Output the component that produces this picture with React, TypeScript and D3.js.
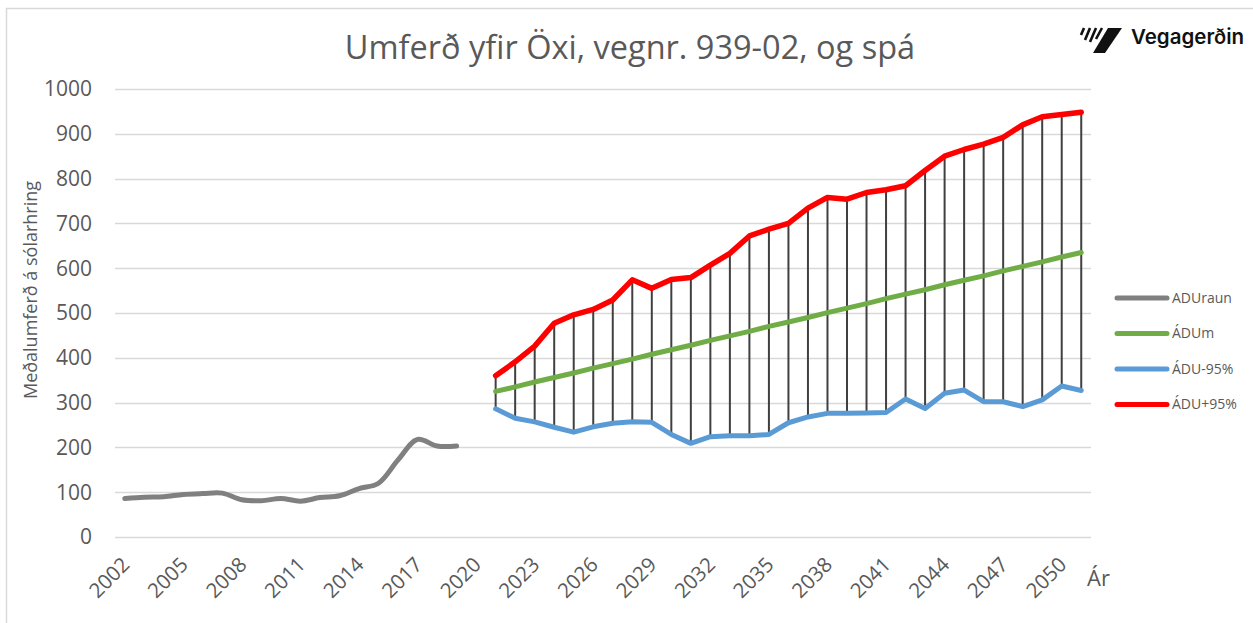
import React, { useEffect, useRef } from "react";
import * as d3 from "d3";

// years on the category axis (2002 - 2051)
const years = d3.range(2002, 2052);
const tickYears = [2002, 2005, 2008, 2011, 2014, 2017, 2020, 2023, 2026, 2029, 2032, 2035, 2038, 2041, 2044, 2047, 2050];
const yTicks = [0, 100, 200, 300, 400, 500, 600, 700, 800, 900, 1000];

// measured traffic 2002-2019
const rawYears = d3.range(2002, 2020);
const aduRaun = [86, 89, 90, 95, 97, 98, 83, 81, 86, 80, 88, 92, 108, 120, 172, 218, 203, 203];

// forecast 2021-2051
const fcYears = d3.range(2021, 2052);
const aduM = [325, 335, 346, 356, 366, 377, 387, 397, 408, 418, 428, 439, 449, 459, 470, 480, 490, 501, 511, 521, 532, 542, 552, 563, 573, 583, 594, 604, 614, 625, 635];
const aduLow = [286, 265, 257, 245, 234, 246, 254, 257, 256, 229, 209, 224, 226, 226, 229, 255, 268, 276, 276, 277, 278, 308, 287, 321, 328, 302, 302, 291, 306, 337, 327];
const aduHigh = [360, 391, 426, 477, 496, 508, 529, 574, 555, 575, 579, 607, 633, 672, 687, 700, 734, 758, 754, 769, 775, 784, 818, 850, 865, 877, 892, 920, 938, 943, 948];

const seriesNames = ["ADUraun", "ÁDUm", "ÁDU-95%", "ÁDU+95%"];
const seriesColors = ["#808080", "#70AD47", "#5B9BD5", "#FF0000"];

const W = 1253, H = 623;
const FONT = "'Open Sans', 'DejaVu Sans', sans-serif";
const TXT = "#595959";

function App() {
  const ref = useRef<SVGSVGElement>(null);

  function drawChart() {
    const svg = d3.select(ref.current);
    svg.selectAll("*").remove();

    const plot = { left: 115, right: 1091, top: 89, bottom: 537 };

    const x = d3.scaleBand<number>().domain(years).range([plot.left, plot.right]);
    const cx = (yr: number) => (x(yr) as number) + x.bandwidth() / 2;
    const y = d3.scaleLinear().domain([0, 1000]).range([plot.bottom, plot.top]);

    svg.append("rect").attr("width", W).attr("height", H).attr("fill", "#fff");
    svg
      .append("rect")
      .attr("x", 6.5)
      .attr("y", 8.5)
      .attr("width", W + 20)
      .attr("height", H + 20)
      .attr("fill", "none")
      .attr("stroke", "#d9d9d9")
      .attr("stroke-width", 1.5);

    // gridlines
    svg
      .append("g")
      .selectAll("line")
      .data(yTicks)
      .enter()
      .append("line")
      .attr("x1", plot.left)
      .attr("x2", plot.right)
      .attr("y1", (d) => Math.round(y(d)) + 0.5)
      .attr("y2", (d) => Math.round(y(d)) + 0.5)
      .attr("stroke", "#d9d9d9")
      .attr("stroke-width", 1.5);

    // y tick labels
    svg
      .append("g")
      .selectAll("text")
      .data(yTicks)
      .enter()
      .append("text")
      .attr("x", 92)
      .attr("y", (d) => y(d))
      .attr("dy", "0.35em")
      .attr("text-anchor", "end")
      .attr("font-family", FONT)
      .attr("font-size", 21)
      .attr("fill", TXT)
      .text((d) => d);

    // x tick labels, rotated
    svg
      .append("g")
      .selectAll("text")
      .data(tickYears)
      .enter()
      .append("text")
      .attr("transform", (d) => `translate(${cx(d) + 1},${561}) rotate(-45)`)
      .attr("dy", "0.35em")
      .attr("text-anchor", "end")
      .attr("font-family", FONT)
      .attr("font-size", 20.5)
      .attr("fill", TXT)
      .text((d) => d);

    svg
      .append("text")
      .attr("x", 1087)
      .attr("y", 586)
      .attr("font-family", FONT)
      .attr("font-size", 22)
      .attr("fill", TXT)
      .text("Ár");

    svg
      .append("text")
      .attr("transform", "translate(37,290) rotate(-90)")
      .attr("text-anchor", "middle")
      .attr("font-family", FONT)
      .attr("font-size", 18)
      .attr("fill", TXT)
      .text("Meðalumferð á sólarhring");

    svg
      .append("text")
      .attr("x", 630)
      .attr("y", 59)
      .attr("text-anchor", "middle")
      .attr("font-family", FONT)
      .attr("font-size", 32.5)
      .attr("fill", TXT)
      .text("Umferð yfir Öxi, vegnr. 939-02, og spá");

    // high-low lines between upper and lower bound
    svg
      .append("g")
      .selectAll("line")
      .data(fcYears)
      .enter()
      .append("line")
      .attr("x1", (d) => cx(d))
      .attr("x2", (d) => cx(d))
      .attr("y1", (d, i) => y(aduHigh[i]))
      .attr("y2", (d, i) => y(aduLow[i]))
      .attr("stroke", "#404040")
      .attr("stroke-width", 2);

    const line = d3
      .line<number>()
      .x((d, i) => cx(fcYears[i]))
      .y((d) => y(d));

    const smooth = d3
      .line<number>()
      .x((d, i) => cx(rawYears[i]))
      .y((d) => y(d))
      .curve(d3.curveCatmullRom.alpha(0.5));

    svg
      .append("path")
      .attr("d", smooth(aduRaun))
      .attr("fill", "none")
      .attr("stroke", seriesColors[0])
      .attr("stroke-width", 5)
      .attr("stroke-linecap", "round");

    [aduM, aduLow, aduHigh].forEach((vals, k) => {
      svg
        .append("path")
        .attr("d", line(vals))
        .attr("fill", "none")
        .attr("stroke", seriesColors[k + 1])
        .attr("stroke-width", k === 2 ? 5.5 : 5)
        .attr("stroke-linejoin", "round")
        .attr("stroke-linecap", "round");
    });

    // legend
    const legend = svg
      .selectAll(".legend")
      .data(seriesNames)
      .enter()
      .append("g")
      .attr("class", "legend")
      .attr("transform", (d, i) => `translate(0,${298 + i * 35.5})`);

    legend
      .append("line")
      .attr("x1", 1117)
      .attr("x2", 1167)
      .attr("stroke", (d, i) => seriesColors[i])
      .attr("stroke-width", 5)
      .attr("stroke-linecap", "round");

    legend
      .append("text")
      .attr("x", 1172)
      .attr("dy", "0.35em")
      .attr("font-family", FONT)
      .attr("font-size", 14)
      .attr("fill", TXT)
      .text((d) => d);

    // Vegagerðin logo
    const logo = svg.append("g");
    logo
      .append("path")
      .attr("d", "M1108,28 L1122,28 L1105,53 L1093,53 Z")
      .attr("fill", "#111");
    [
      [1084, 28, 1081, 35],
      [1090, 28, 1085, 40],
      [1096, 28, 1090, 42],
      [1102, 28, 1096, 39],
    ].forEach(([x1, y1, x2, y2]) => {
      logo
        .append("line")
        .attr("x1", x1)
        .attr("y1", y1)
        .attr("x2", x2)
        .attr("y2", y2)
        .attr("stroke", "#111")
        .attr("stroke-width", 2.6);
    });
    logo
      .append("text")
      .attr("x", 1131)
      .attr("y", 44)
      .attr("font-family", "Inter, 'DejaVu Sans', sans-serif")
      .attr("font-size", 20.5)
      .attr("font-weight", 600)
      .attr("fill", "#111")
      .text("Vegagerðin");
  }

  useEffect(() => {
    drawChart();
  }, []);

  return (
    <svg
      ref={ref}
      width={W}
      height={H}
      style={{ position: "fixed", left: 0, top: 0, display: "block" }}
    />
  );
}

export default App;
